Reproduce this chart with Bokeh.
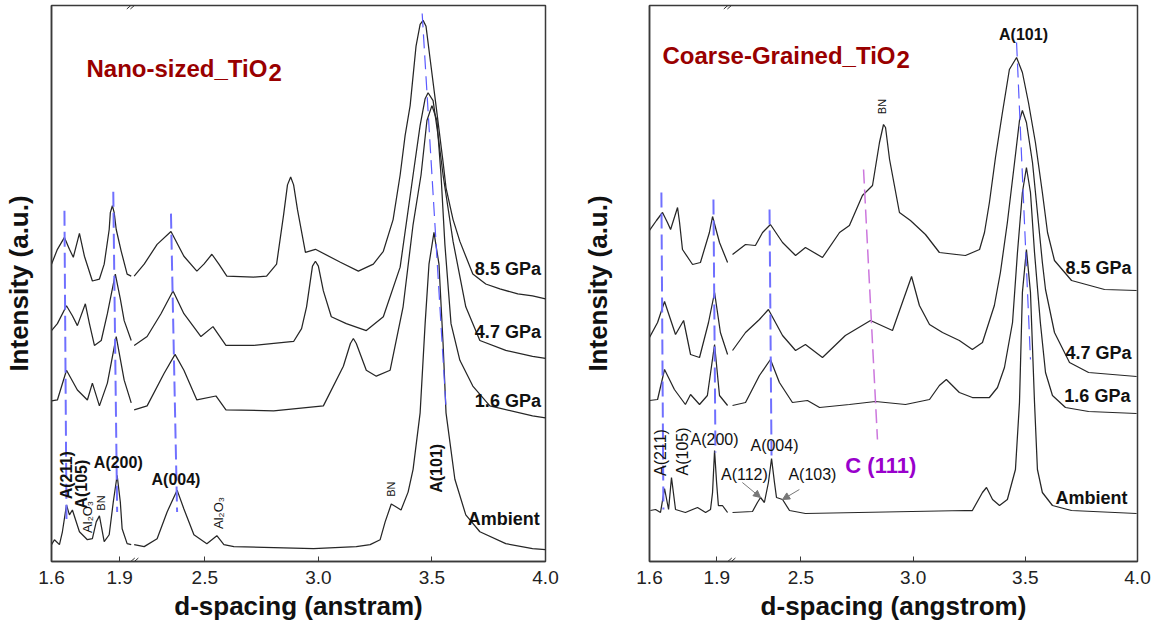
import numpy as np
from bokeh.plotting import figure
from bokeh.layouts import row
from bokeh.models import Label, Arrow, NormalHead, FixedTicker, Range1d
from bokeh.embed import file_html
from bokeh.resources import INLINE

FONT = "Liberation Sans"

# ---------------- axis ticks (d-spacing, angstrom) ----------------
tick_values = [1.6, 1.9, 2.5, 3.0, 3.5, 4.0]
tick_labels = ["1.6", "1.9", "2.5", "3.0", "3.5", "4.0"]

# ---------------- Nano-sized TiO2 (left) ----------------
nano_85_d = [1.600, 1.626, 1.657, 1.679, 1.696, 1.723, 1.745, 1.780, 1.811, 1.832, 1.854, 1.859, 1.868, 1.876, 1.885,
             1.907, 1.933, 1.951,
             2.189, 2.233, 2.290, 2.351, 2.408, 2.465, 2.496, 2.531, 2.562, 2.597, 2.715, 2.772, 2.816, 2.847, 2.864,
             2.878, 2.891, 2.908, 2.943, 2.987, 3.097, 3.176, 3.242, 3.286, 3.329, 3.360, 3.382, 3.404, 3.430, 3.448,
             3.461, 3.474, 3.492, 3.518, 3.549, 3.562, 3.593, 3.623, 3.680, 3.737, 3.799, 3.878, 3.943, 4.000]
nano_85_i = [300, 315, 327, 315, 307, 331, 308, 283, 285, 300, 335, 352, 359, 352, 335,
             313, 290, 288,
             288, 300, 320, 333, 308, 293, 300, 310, 300, 288, 287, 288, 300, 350, 380,
             388, 380, 355, 312, 315, 302, 293, 300, 313, 345, 390, 430, 460, 520, 542,
             546, 540, 507, 460, 403, 377, 345, 323, 290, 280, 275, 270, 268, 265]

nano_47_d = [1.600, 1.626, 1.666, 1.692, 1.714, 1.749, 1.767, 1.789, 1.819, 1.846, 1.881, 1.903, 1.920, 1.951,
             2.189, 2.246, 2.307, 2.360, 2.408, 2.483, 2.536, 2.593, 2.715, 2.891, 2.926, 2.948, 2.974, 2.987, 3.000,
             3.022, 3.057, 3.123, 3.211, 3.286, 3.360, 3.417, 3.448, 3.470, 3.483, 3.505, 3.527, 3.549, 3.593, 3.649,
             3.711, 3.825, 3.943, 4.000]
nano_47_i = [233, 240, 258, 248, 238, 260, 240, 218, 223, 250, 290, 265, 243, 223,
             218, 227, 250, 273, 250, 227, 237, 218, 218, 222, 235, 257, 298, 303, 298,
             273, 247, 240, 233, 247, 297, 390, 440, 467, 473, 465, 430, 390, 323, 257,
             223, 213, 207, 205]

nano_16_d = [1.600, 1.626, 1.666, 1.714, 1.758, 1.780, 1.811, 1.846, 1.885, 1.920, 1.951,
             2.189, 2.246, 2.321, 2.369, 2.408, 2.465, 2.549, 2.593, 2.803, 3.022, 3.110, 3.141, 3.154, 3.167,
             3.211, 3.255, 3.316, 3.373, 3.417, 3.452, 3.478, 3.500, 3.522, 3.540, 3.557, 3.584, 3.623, 3.680,
             3.755, 3.943, 4.000]
nano_16_i = [162, 163, 193, 173, 163, 180, 157, 180, 227, 183, 160,
             153, 157, 190, 209, 193, 163, 167, 153, 152, 157, 197, 220, 225, 220,
             193, 187, 193, 257, 340, 390, 445, 460, 445, 390, 320, 240, 203, 177,
             157, 147, 145]

nano_amb_d = [1.600, 1.613, 1.635, 1.648, 1.666, 1.679, 1.692, 1.723, 1.745, 1.758, 1.780, 1.797, 1.811, 1.832,
              1.854, 1.872, 1.889, 1.903, 1.911, 1.933, 1.951,
              2.189, 2.233, 2.290, 2.334, 2.378, 2.408, 2.452, 2.509, 2.553, 2.584, 2.628, 2.979, 3.167, 3.228,
              3.272, 3.294, 3.321, 3.343, 3.364, 3.395, 3.417, 3.448, 3.470, 3.487, 3.509, 3.531, 3.549, 3.562,
              3.601, 3.649, 3.711, 3.825, 3.943, 4.000]
nano_amb_i = [17, 22, 17, 30, 57, 47, 52, 30, 25, 22, 23, 40, 46, 20,
              27, 60, 87, 60, 33, 18, 17,
              17, 15, 23, 50, 72, 53, 27, 18, 26, 17, 15, 13, 15, 17,
              22, 40, 58, 55, 52, 70, 93, 150, 240, 300, 332, 300, 220, 150,
              83, 47, 30, 18, 13, 12]

nano_guide_d = [[1.657, 1.666], [1.872, 1.889], [2.351, 2.378]]
nano_guide_i = [[354, 43], [373, 50], [351, 50]]
nano_a101_d = [3.457, 3.562]
nano_a101_i = [553, 155]

# ---------------- Coarse-Grained TiO2 (right) ----------------
coarse_85_d = [1.600, 1.631, 1.658, 1.680, 1.694, 1.725, 1.734, 1.747, 1.792, 1.827, 1.867, 1.881, 1.912, 1.948,
               2.195, 2.253, 2.297, 2.329, 2.364, 2.418, 2.476, 2.520, 2.596, 2.672, 2.716, 2.774, 2.819, 2.850,
               2.868, 2.877, 2.895, 2.939, 2.988, 3.055, 3.117, 3.233, 3.296, 3.318, 3.340, 3.367, 3.398, 3.429,
               3.461, 3.487, 3.514, 3.545, 3.576, 3.599, 3.630, 3.706, 3.853, 3.996]
coarse_85_i = [331, 341, 349, 339, 332, 354, 339, 312, 297, 299, 329, 345, 319, 299,
               307, 317, 316, 329, 337, 319, 306, 314, 304, 329, 336, 366, 376, 419,
               437, 434, 402, 349, 341, 327, 309, 306, 312, 329, 359, 404, 449, 492,
               504, 489, 459, 419, 369, 329, 301, 281, 272, 271]

coarse_47_d = [1.600, 1.636, 1.667, 1.716, 1.752, 1.783, 1.823, 1.863, 1.890, 1.916, 1.948,
               2.195, 2.253, 2.315, 2.355, 2.418, 2.476, 2.520, 2.596, 2.698, 2.810, 2.908, 2.952, 2.993, 3.028,
               3.073, 3.131, 3.206, 3.264, 3.309, 3.362, 3.389, 3.420, 3.452, 3.474, 3.487, 3.505, 3.532, 3.554,
               3.576, 3.590, 3.630, 3.697, 3.782, 3.996]
coarse_47_i = [224, 239, 260, 227, 241, 207, 204, 239, 269, 229, 207,
               211, 229, 242, 252, 226, 211, 217, 204, 226, 241, 231, 259, 285, 256,
               237, 229, 221, 212, 219, 256, 289, 339, 399, 441, 451, 439, 399, 349,
               299, 272, 229, 199, 189, 185]

coarse_16_d = [1.600, 1.636, 1.667, 1.711, 1.760, 1.783, 1.823, 1.858, 1.890, 1.912, 1.948,
               2.195, 2.253, 2.315, 2.364, 2.404, 2.462, 2.529, 2.583, 2.716, 2.832, 2.966, 3.073, 3.117, 3.148,
               3.206, 3.264, 3.340, 3.376, 3.407, 3.443, 3.465, 3.487, 3.505, 3.523, 3.541, 3.567, 3.590, 3.621,
               3.679, 3.782, 3.996]
coarse_16_i = [161, 162, 192, 172, 157, 167, 157, 166, 217, 166, 156,
               156, 159, 186, 202, 179, 159, 161, 154, 157, 160, 157, 162, 176, 182,
               169, 164, 164, 174, 194, 239, 309, 369, 394, 369, 309, 239, 189, 166,
               154, 150, 148]

coarse_amb_d = [1.604, 1.627, 1.649, 1.667, 1.685, 1.698, 1.716, 1.760, 1.814, 1.850, 1.872, 1.881, 1.890,
                1.899, 1.907, 1.925, 1.948,
                2.195, 2.284, 2.306, 2.320, 2.337, 2.355, 2.369, 2.382, 2.391, 2.418, 2.449, 2.520, 3.233, 3.264,
                3.309, 3.327, 3.354, 3.385, 3.420, 3.456, 3.474, 3.487, 3.505, 3.523, 3.541, 3.554, 3.576, 3.621,
                3.706, 3.996]
coarse_amb_i = [51, 52, 49, 73, 52, 84, 52, 49, 54, 49, 52, 69, 111,
                79, 56, 56, 49,
                49, 50, 59, 64, 59, 79, 103, 79, 64, 62, 51, 48, 51, 51,
                69, 74, 62, 56, 62, 92, 159, 269, 312, 269, 159, 92, 69, 56,
                51, 48]

coarse_guide_d = [[1.653, 1.662], [1.885, 1.894], [2.360, 2.369]]
coarse_guide_i = [[369, 52], [362, 109], [352, 102]]
coarse_a101_d = [3.461, 3.523]
coarse_a101_i = [519, 202]
coarse_c111_d = [2.779, 2.841]
coarse_c111_i = [392, 122]

# ---------------- broken-axis mapping ----------------
GAP = 0.225          # skipped d-spacing interval (about 1.96 .. 2.185)
BREAK_U = 1.957      # axis position of the break marks


def to_axis(d):
    return d if d < 2.0 else d - GAP


def split_curve(ds, vals):
    u1 = [to_axis(d) for d in ds if d < 2.0]
    v1 = [v for d, v in zip(ds, vals) if d < 2.0]
    u2 = [to_axis(d) for d in ds if d >= 2.0]
    v2 = [v for d, v in zip(ds, vals) if d >= 2.0]
    return [u1, u2], [v1, v2]


AX_COLOR = "#3a3a3a"


def make_fig(width, bl, br, bt, bb, ymax, ystand, xlabel):
    p = figure(width=width, height=630, output_backend="svg", toolbar_location=None,
               x_range=Range1d(1.6, to_axis(4.0)), y_range=Range1d(0, ymax),
               min_border_left=bl, min_border_right=br, min_border_top=bt, min_border_bottom=bb)
    p.grid.visible = False
    p.outline_line_color = AX_COLOR
    p.outline_line_width = 1.5
    p.background_fill_color = "white"
    p.border_fill_color = "white"

    xa = p.xaxis[0]
    xa.ticker = FixedTicker(ticks=[to_axis(t) for t in tick_values])
    xa.major_label_overrides = {to_axis(t): lab for t, lab in zip(tick_values, tick_labels)}
    xa.major_tick_in = 5
    xa.major_tick_out = 0
    xa.minor_tick_line_color = None
    xa.major_tick_line_color = AX_COLOR
    xa.axis_line_color = AX_COLOR
    xa.axis_line_width = 1.5
    xa.major_label_text_font = FONT
    xa.major_label_text_font_size = "19px"
    xa.major_label_text_color = "#222222"
    xa.major_label_standoff = 9
    xa.axis_label = xlabel
    xa.axis_label_text_font = FONT
    xa.axis_label_text_font_size = "26px"
    xa.axis_label_text_font_style = "bold"
    xa.axis_label_text_color = "#111111"
    xa.axis_label_standoff = 4

    ya = p.yaxis[0]
    ya.ticker = FixedTicker(ticks=[])
    ya.major_tick_line_color = None
    ya.minor_tick_line_color = None
    ya.major_label_standoff = 0
    ya.axis_line_color = AX_COLOR
    ya.axis_line_width = 1.5
    ya.axis_label = "Intensity (a.u.)"
    ya.axis_label_text_font = FONT
    ya.axis_label_text_font_size = "26px"
    ya.axis_label_text_font_style = "bold"
    ya.axis_label_text_color = "#111111"
    ya.axis_label_standoff = ystand
    return p


def add_curve(p, ds, vals):
    xs, ys = split_curve(ds, vals)
    p.multi_line(xs, ys, line_color="#262626", line_width=1.25)


def add_guides(p, ds_list, i_list, color, width, dash):
    xs = [[to_axis(d) for d in ds] for ds in ds_list]
    p.multi_line(xs, i_list, line_color=color, line_width=width, line_dash=dash)


def add_text(p, d, i, text, size, bold=False, angle=0.0, align="center", color="#111111", x_off=0, y_off=0):
    p.add_layout(Label(x=to_axis(d), y=i, text=text, text_font=FONT, text_font_size=f"{size}px",
                       text_font_style="bold" if bold else "normal", angle=angle, text_align=align,
                       text_baseline="middle", text_color=color, x_offset=x_off, y_offset=y_off))


def add_break(p, ymax, pxu):
    for yb in (0, ymax):
        for o in (-1.8, 1.8):
            p.add_layout(Arrow(end=None, x_start=BREAK_U + (o - 4) * pxu, y_start=yb - 3.5,
                               x_end=BREAK_U + (o + 4) * pxu, y_end=yb + 3.5,
                               line_color="#333333", line_width=1))


ROT = np.pi / 2
BLUE = "#7070ff"
TITLE_RED = "#990000"

# ---------------- left figure ----------------
p1 = make_fig(577, 49, 32, 1, 68, 561, 18, "d-spacing (anstram)")
for ds, vs in [(nano_85_d, nano_85_i), (nano_47_d, nano_47_i), (nano_16_d, nano_16_i), (nano_amb_d, nano_amb_i)]:
    add_curve(p1, ds, vs)
add_guides(p1, nano_guide_d, nano_guide_i, BLUE, 2, "15 6")
add_guides(p1, [nano_a101_d], [nano_a101_i], "#5a5aff", 1.2, "14 7")
add_break(p1, 561, 1 / 228.0)

add_text(p1, 1.754, 497, "Nano-sized_TiO", 24, True, align="left", color=TITLE_RED)
add_text(p1, 1.754, 497, "2", 24, True, align="left", color=TITLE_RED, x_off=182, y_off=-4)
for txt, yi in [("8.5 GPa", 295), ("4.7 GPa", 232), ("1.6 GPa", 162)]:
    add_text(p1, 3.689, yi, txt, 18, True, align="left")
add_text(p1, 3.658, 43, "Ambient", 18, True, align="left")
add_text(p1, 1.666, 87, "A(211)", 16, True, angle=ROT)
add_text(p1, 1.732, 78, "A(105)", 16, True, angle=ROT)
add_text(p1, 1.758, 45, "Al₂O₃", 13, False, angle=ROT)
add_text(p1, 1.819, 59, "BN", 11, False, angle=ROT)
add_text(p1, 1.894, 100, "A(200)", 16, True)
add_text(p1, 2.373, 83, "A(004)", 16, True)
add_text(p1, 2.562, 49, "Al₂O₃", 13, False, angle=ROT)
add_text(p1, 3.321, 73, "BN", 11, False, angle=ROT)
add_text(p1, 3.518, 94, "A(101)", 16, True, angle=ROT)

# ---------------- right figure ----------------
p2 = make_fig(576, 72, 16, 5, 69, 556, 37, "d-spacing (angstrom)")
for ds, vs in [(coarse_85_d, coarse_85_i), (coarse_47_d, coarse_47_i), (coarse_16_d, coarse_16_i),
               (coarse_amb_d, coarse_amb_i)]:
    add_curve(p2, ds, vs)
add_guides(p2, coarse_guide_d, coarse_guide_i, BLUE, 2, "15 6")
add_guides(p2, [coarse_a101_d], [coarse_a101_i], "#5a5aff", 1.2, "14 7")
add_guides(p2, [coarse_c111_d], [coarse_c111_i], "#cc77dd", 1.5, "14 6")
add_break(p2, 556, 1 / 224.4)

add_text(p2, 1.658, 506, "Coarse-Grained_TiO", 24, True, align="left", color=TITLE_RED)
add_text(p2, 1.658, 506, "2", 24, True, align="left", color=TITLE_RED, x_off=234, y_off=-4)
add_text(p2, 3.492, 527, "A(101)", 16, True)
add_text(p2, 2.863, 455, "BN", 11, False, angle=ROT)
add_text(p2, 2.856, 96, "C (111)", 22, True, color="#9900cc")
add_text(p2, 1.649, 109, "A(211)", 16, False, angle=ROT)
add_text(p2, 1.747, 110, "A(105)", 16, False, angle=ROT)
add_text(p2, 1.890, 122, "A(200)", 16, False)
add_text(p2, 2.382, 116, "A(004)", 16, False)
add_text(p2, 2.248, 87, "A(112)", 16, False)
add_text(p2, 2.551, 87, "A(103)", 16, False)
for txt, yi in [("8.5 GPa", 294), ("4.7 GPa", 209)]:
    add_text(p2, 3.679, yi, txt, 18, True, align="left")
add_text(p2, 3.674, 166, "1.6 GPa", 18, True, align="left")
add_text(p2, 3.634, 64, "Ambient", 18, True, align="left")

p2.add_layout(Arrow(end=NormalHead(size=7, fill_color="#777777", line_color="#777777"),
                    x_start=to_axis(2.239), y_start=79, x_end=to_axis(2.320), y_end=64,
                    line_color="#777777", line_width=1))
p2.add_layout(Arrow(end=NormalHead(size=7, fill_color="#777777", line_color="#777777"),
                    x_start=to_axis(2.493), y_start=72, x_end=to_axis(2.418), y_end=62,
                    line_color="#777777", line_width=1))

layout = row(p1, p2)
open("out.html", "w").write(file_html(layout, INLINE))
